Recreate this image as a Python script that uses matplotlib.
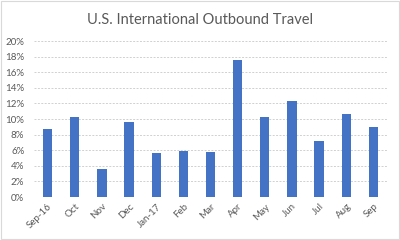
# U.S. International Outbound Travel - crecimiento mensual

import matplotlib
matplotlib.use('Agg')
import matplotlib.pyplot as plt
from matplotlib.ticker import PercentFormatter
from matplotlib.patches import Rectangle

# Datos

meses = ['Sep-16', 'Oct', 'Nov', 'Dec', 'Jan-17', 'Feb', 'Mar',
         'Apr', 'May', 'Jun', 'Jul', 'Aug', 'Sep']
valores = [8.7, 10.3, 3.6, 9.6, 5.7, 5.9, 5.8, 17.6, 10.2, 12.3, 7.2, 10.6, 9.0]
ticks_y = [0, 2, 4, 6, 8, 10, 12, 14, 16, 18, 20]

plt.rcParams['font.family'] = ['Lato', 'DejaVu Sans']

# Grafica

fig = plt.figure(figsize=(4, 2.4), dpi=100)
ax = fig.add_axes([0.085, 0.179, 0.8825, 0.65])

ax.bar(meses, valores, width=0.34, color='#4472C4', zorder=3)

ax.set_xlim(-0.5, len(meses) - 0.5)
ax.set_ylim(0, 20)
ax.set_yticks(ticks_y)
ax.yaxis.set_major_formatter(PercentFormatter(decimals=0))
ax.grid(axis='y', color='#d0d0d0', linestyle=(0, (2, 1.5)), linewidth=0.7, zorder=0)

for lado in ['top', 'right', 'left', 'bottom']:
    ax.spines[lado].set_visible(False)

ax.tick_params(axis='both', length=0, labelsize=7, labelcolor='#595959')
ax.tick_params(axis='y', pad=7)
plt.setp(ax.get_xticklabels(), rotation=45, ha='right', rotation_mode='anchor')

fig.text(0.5, 0.915, 'U.S. International Outbound Travel', ha='center', va='center',
         fontsize=10.5, color='#595959')

# Borde del grafico
fig.patches.append(Rectangle((0.003, 0.005), 0.994, 0.99, transform=fig.transFigure,
                             fill=False, edgecolor='#d9d9d9', linewidth=0.8))

fig.savefig('out.png', dpi=100)
